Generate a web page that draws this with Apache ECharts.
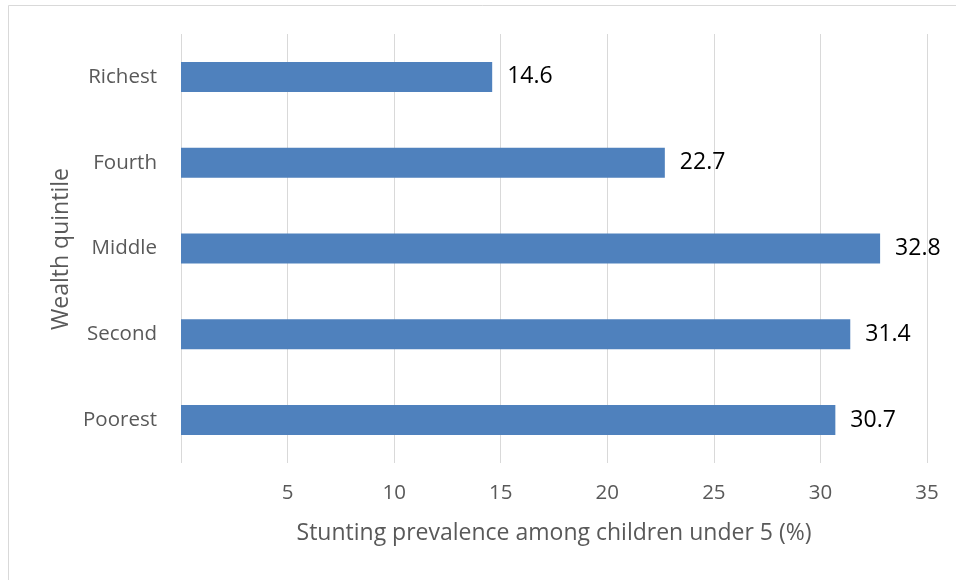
<!DOCTYPE html>
<html>
<head>
<meta charset="utf-8">
<script src="https://cdn.jsdelivr.net/npm/echarts@6/dist/echarts.min.js"></script>
<style>
html,body{margin:0;padding:0;background:#fff;}
#chart{width:956px;height:580px;}
</style>
</head>
<body>
<div id="chart"></div>
<script>
const categories = ['Poorest', 'Second', 'Middle', 'Fourth', 'Richest'];
const values = [30.7, 31.4, 32.8, 22.7, 14.6];
const xTicks = [0, 5, 10, 15, 20, 25, 30, 35];
const xTitle = 'Stunting prevalence among children under 5 (%)';
const yTitle = 'Wealth quintile';

const FONT = 'Open Sans';
const chart = echarts.init(document.getElementById('chart'));
chart.setOption({
  backgroundColor: '#fff',
  animation: false,
  textStyle: { fontFamily: FONT },
  graphic: [{
    type: 'rect',
    shape: { x: 8.5, y: 5.5, width: 1000, height: 1000 },
    style: { fill: 'none', stroke: '#d9d9d9', lineWidth: 1 },
    silent: true
  }, {
    type: 'text',
    x: 61,
    y: 249,
    rotation: Math.PI / 2,
    style: {
      text: yTitle, fill: '#595959', font: '23px "Open Sans"',
      textAlign: 'center', textVerticalAlign: 'middle'
    },
    silent: true
  }],
  grid: { left: 181, right: 29, top: 34, bottom: 117, containLabel: false },
  xAxis: {
    type: 'value',
    min: xTicks[0],
    max: xTicks[xTicks.length - 1],
    interval: 5,
    axisLine: { show: false },
    axisTick: { show: false },
    splitLine: { show: true, lineStyle: { color: '#d9d9d9', width: 1 } },
    axisLabel: {
      color: '#595959', fontSize: 20.5, fontFamily: FONT, margin: 20,
      formatter: v => (v === 0 ? '' : String(v))
    },
    name: xTitle,
    nameLocation: 'middle',
    nameGap: 59,
    nameTextStyle: { color: '#595959', fontSize: 23, fontFamily: FONT }
  },
  yAxis: {
    type: 'category',
    data: categories,
    axisLine: { show: false },
    axisTick: { show: false },
    axisLabel: { color: '#595959', fontSize: 20.5, fontFamily: FONT, margin: 24 }
  },
  series: [{
    type: 'bar',
    data: values,
    barWidth: 30,
    itemStyle: { color: '#4F81BD' },
    label: {
      show: true, position: 'right', distance: 15,
      color: '#000', fontSize: 23, fontFamily: FONT,
      formatter: p => p.value.toFixed(1)
    }
  }]
});
</script>
</body>
</html>
